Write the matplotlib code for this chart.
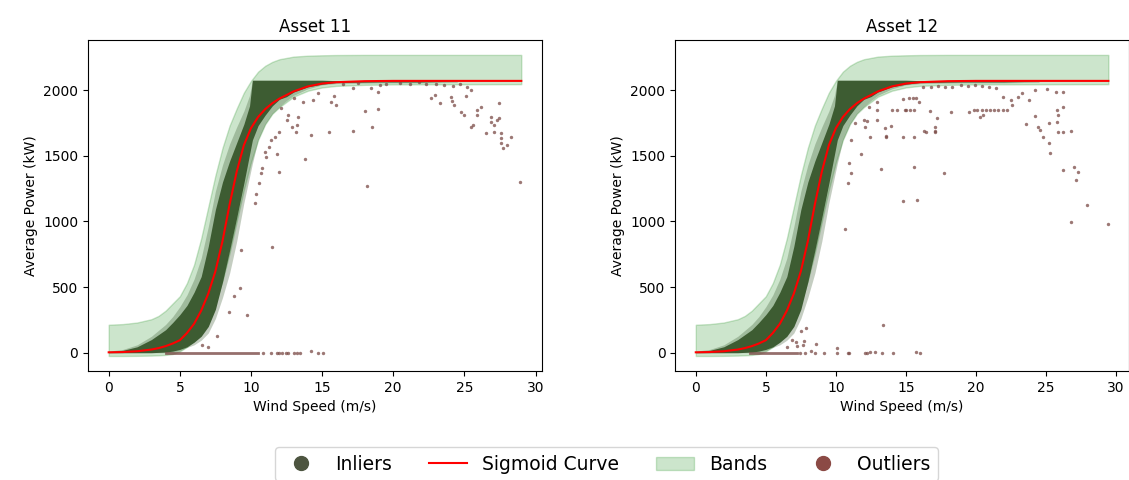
import matplotlib
matplotlib.use('Agg')
import matplotlib.pyplot as plt
from matplotlib.lines import Line2D
from matplotlib.patches import Patch

# values (wind speed m/s, power kW)
titles = ['Asset 11', 'Asset 12']

# sigmoid curve and band edges on a shared speed grid
speed_11 = [0, 1, 2, 3, 3.5, 4, 4.5, 5, 5.5, 6, 6.5, 7, 7.5, 8, 8.5, 9, 9.5,
            10, 10.5, 11, 11.5, 12, 13, 14, 15, 16, 18, 20, 29.0]
speed_12 = [0, 1, 2, 3, 3.5, 4, 4.5, 5, 5.5, 6, 6.5, 7, 7.5, 8, 8.5, 9, 9.5,
            10, 10.5, 11, 11.5, 12, 13, 14, 15, 16, 18, 20, 29.45]
curve = [3, 5, 11, 24, 35, 50, 70, 95, 150, 220, 320, 450, 620, 850, 1130,
         1380, 1580, 1710, 1795, 1855, 1900, 1935, 1990, 2028, 2050, 2060,
         2068, 2070, 2070]
band_hi = [213, 218, 230, 255, 280, 320, 375, 430, 530, 670, 870, 1110, 1350,
           1560, 1730, 1860, 1980, 2070, 2140, 2185, 2215, 2235, 2255, 2262,
           2265, 2267, 2268, 2268, 2268]
band_lo = [-25, -25, -24, -22, -20, -17, -10, 10, 45, 90, 150, 240, 380, 550,
           760, 1000, 1240, 1450, 1620, 1740, 1820, 1870, 1950, 1995, 2020,
           2032, 2040, 2043, 2045]

# extent of the dense inlier cloud (core and its lighter fringe)
cloud_speed = [0, 1, 2, 3, 4, 4.5, 5, 5.5, 6, 6.5, 7, 7.5, 8, 8.5, 9, 9.5,
               9.9, 10.1, 10.5, 11, 11.5, 12, 12.5, 13, 14, 15, 16, 19, 22, 24.5]
cloud_hi = [8, 18, 45, 100, 175, 230, 290, 360, 460, 580, 810, 1090, 1300,
            1460, 1600, 1740, 1880, 2075, 2075, 2075, 2075, 2075, 2075, 2075,
            2075, 2075, 2072, 2072, 2072, 2068]
cloud_lo = [0, 0, 0, 0, 5, 12, 25, 45, 80, 125, 200, 330, 540, 780, 1030,
            1290, 1510, 1620, 1730, 1810, 1880, 1930, 1950, 1985, 2025, 2045,
            2058, 2062, 2062, 2068]
fringe_hi = [12, 25, 60, 125, 215, 275, 350, 440, 560, 720, 960, 1230, 1430,
             1590, 1720, 1840, 1960, 2075, 2075, 2075, 2075, 2075, 2075, 2075,
             2075, 2075, 2072, 2072, 2072, 2068]
fringe_lo = [0, 0, 0, 0, 0, 3, 15, 40, 60, 95, 150, 260, 420, 606, 850, 1140,
             1340, 1440, 1620, 1740, 1820, 1873, 1920, 1960, 2010, 2040, 2050,
             2055, 2055, 2060]

# dense run of zero-power outliers (start, end speed)
zero_run_11 = [4.0, 10.5]
zero_run_12 = [3.9, 7.2]

# scattered outliers
out_x_11 = [10.87, 11.42, 11.8, 12.0, 12.18, 12.43, 12.63, 13.0, 13.26, 13.43, 14.19, 14.69, 15.07,
            6.57, 6.98, 7.58, 8.46, 9.69, 8.83, 9.23, 9.3, 11.47,
            10.3, 10.36, 10.54, 10.74, 10.8, 11.04, 10.97, 11.24, 11.44, 11.67, 12.0, 12.55, 12.85,
            13.2, 13.3, 12.6, 13.25, 12.0, 11.8, 13.77, 14.2, 15.5, 17.2, 18.5, 18.0, 18.9, 18.14,
            12.1, 13.0, 13.65, 14.35, 14.7, 15.64, 16.0, 15.87, 17.16, 18.44, 18.9, 19.1, 16.5,
            17.5, 19.5, 20.5, 21.2, 21.8, 22.3, 23.0, 23.6, 24.2, 24.7, 25.2,
            22.65, 22.9, 23.3, 24.05, 24.1, 24.3, 24.75, 25.0, 25.1, 25.45, 25.9, 26.15, 25.9,
            26.86, 26.9, 27.1, 27.3, 27.4, 27.45, 26.55, 27.1, 27.6, 27.55, 27.6, 27.7, 28.0,
            28.26, 25.45, 25.6, 28.9]
out_y_11 = [0, 0, 0, 0, 0, 0, 0, 0, 0, 0, 10, 0, 0,
            58, 41, 129, 312, 289, 431, 490, 780, 802,
            1137, 1205, 1294, 1365, 1409, 1492, 1530, 1568, 1619, 1645, 1683, 1771, 1716,
            1683, 1797, 1810, 1734, 1378, 1513, 1478, 1660, 1681, 1688, 1721, 1843, 1853, 1270,
            1860, 1940, 1911, 1924, 1975, 1911, 1886, 1954, 2013, 2013, 1983, 2038, 2045,
            2055, 2050, 2055, 2045, 2060, 2045, 2050, 2040, 2030, 2045, 2020,
            1937, 1962, 1904, 1949, 1919, 1886, 1835, 1810, 1954, 2000, 1848, 1873, 1810,
            1797, 1759, 1734, 1772, 1785, 1899, 1675, 1683, 1670, 1633, 1595, 1557, 1582,
            1640, 1721, 1734, 1303]

out_x_12 = [7.46, 7.77, 8.5, 9.14, 10.05, 10.83, 10.96, 12.07, 12.25, 12.46, 12.8, 13.3, 14.1, 15.7, 16.0,
            6.53, 6.89, 7.19, 7.48, 7.76, 7.67, 8.57, 8.19, 10.1, 13.37, 7.9, 7.15,
            10.68, 13.25, 14.8, 15.8, 15.6, 17.7, 11.8, 12.46, 13.6, 14.8, 16.26, 17.1, 17.1,
            16.7, 18.2, 13.5, 12.2, 12.94, 14.0, 14.37, 14.96, 15.3, 15.5, 15.2, 15.9, 11.35,
            11.1, 10.96, 11.1, 10.9, 12.0, 12.4, 12.9, 12.1, 17.05, 16.4, 15.6, 13.9, 12.95,
            13.55, 15.0, 15.6, 17.2,
            19.84, 20.1, 20.4, 20.7, 21.0, 21.3, 21.6, 21.9, 22.2, 20.3, 20.5, 19.5,
            22.6, 23.6, 24.2, 24.45, 24.6, 24.8, 25.2, 25.3, 25.2, 25.8, 25.85, 25.75, 26.2,
            26.2, 25.7, 25.1, 24.2, 23.8, 23.3, 23.0, 22.5, 21.9, 21.45, 20.9, 20.4, 19.9,
            19.4, 18.9, 18.3, 17.8, 17.3, 16.8, 16.2, 15.75, 14.8,
            26.2, 27.0, 27.3, 27.15, 27.9, 26.8, 29.4, 25.85, 26.2, 26.8]
out_y_12 = [0, 0, 0, 0, 0, 0, 0, 0, 0, 8, 8, 0, 0, 5, 0,
            43, 99, 53, 162, 86, 56, 68, 10, 36, 211, 185, 84,
            943, 1399, 1153, 1163, 1417, 1371, 1513, 1645, 1645, 1645, 1690, 1720, 1690,
            1840, 1835, 1713, 1762, 1848, 1848, 1848, 1848, 1848, 1939, 1939, 1906, 1746,
            1619, 1442, 1365, 1294, 1772, 1873, 1911, 1721, 1683, 1683, 1645, 1726, 1772,
            1650, 1848, 1848, 1789,
            1845, 1845, 1845, 1845, 1845, 1845, 1845, 1845, 1845, 1797, 1810, 1835,
            1886, 1741, 1802, 1721, 1695, 1645, 1599, 1523, 1746, 1759, 1810, 1848, 1868,
            1982, 1987, 2005, 2000, 1924, 1980, 1949, 1924, 1949, 2013, 2020, 2030, 2038,
            2030, 2038, 2020, 2020, 2030, 2020, 2020, 1937, 1929,
            1391, 1416, 1378, 1315, 1127, 998, 977, 1683, 1683, 1688]

inlier_color = '#3d5c32'
outlier_color = '#7b4b47'

fig = plt.figure(figsize=(11.29, 4.8), dpi=100)
ax1 = fig.add_axes([0.078, 0.227, 0.402, 0.69])
ax2 = fig.add_axes([0.598, 0.227, 0.402, 0.69])

panels = [(ax1, speed_11, zero_run_11, out_x_11, out_y_11),
          (ax2, speed_12, zero_run_12, out_x_12, out_y_12)]

for (ax, speed, zero_run, ox, oy), title in zip(panels, titles):
    ax.fill_between(speed, band_lo, band_hi, color='green', alpha=0.2, linewidth=1)
    ax.fill_between(cloud_speed, fringe_lo, fringe_hi, color=inlier_color,
                    alpha=0.3, linewidth=0)
    ax.fill_between(cloud_speed, cloud_lo, cloud_hi, color=inlier_color, linewidth=0)
    ax.plot(zero_run, [0, 0], color=outlier_color, lw=2, alpha=0.8)
    ax.scatter(ox, oy, s=6, color=outlier_color, alpha=0.75, linewidths=0)
    ax.plot(speed, curve, color='red', lw=1.5)
    ax.set_title(title, fontsize=12)
    ax.set_xlabel('Wind Speed (m/s)')
    ax.set_ylabel('Average Power (kW)')
    ax.set_xticks([0, 5, 10, 15, 20, 25, 30])
    ax.set_yticks([0, 500, 1000, 1500, 2000])

handles = [Line2D([], [], marker='o', ls='none', color='#4d5540', markersize=10),
           Line2D([], [], color='red', lw=1.5),
           Patch(facecolor='green', edgecolor='green', alpha=0.2),
           Line2D([], [], marker='o', ls='none', color='#8b4a45', markersize=10)]
fig.legend(handles, ['Inliers', 'Sigmoid Curve', 'Bands', 'Outliers'],
           loc='upper center', bbox_to_anchor=(0.537, 0.088), ncol=4, fontsize=13.5)

plt.savefig('out.png', dpi=100)
plt.close()
